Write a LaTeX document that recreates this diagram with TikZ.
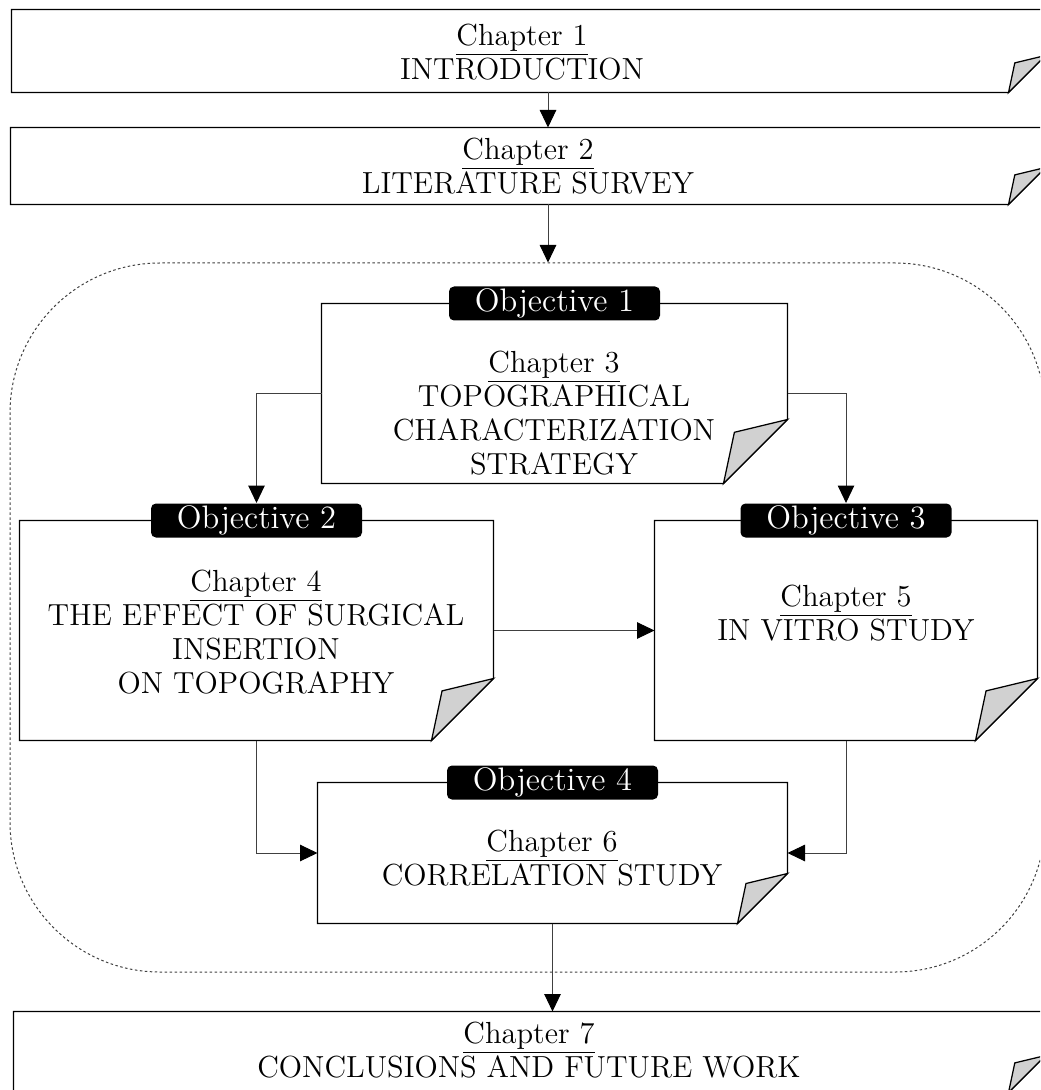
\documentclass[tikz,border=0pt]{standalone}
\usetikzlibrary{arrows.meta,calc,fit}
\tikzset{
 boxline/.style={draw=black, line width=0.5pt},
 shell/.style={inner sep=0pt, draw=none},
 txt/.style={align=center, font=\fontsize{12.2}{13.6}\selectfont, inner sep=0pt},
 obj/.style={fill=black, text=white, rounded corners=2pt, minimum width=84.4pt, minimum height=13.6pt, inner sep=0pt, font=\fontsize{13}{14}\selectfont},
 conn/.style={draw=black!75, line width=0.4pt, -{Triangle[length=7pt,width=6.6pt,black]}},
 region/.style={draw=black!75, line width=0.4pt, dash pattern=on 1pt off 1pt, rounded corners=60pt, inner sep=0pt},
 fold/.style={fill=black!18, draw=black, line width=0.5pt, line join=miter}
}
\newcommand\foldbox[2]{%
 \draw[boxline] (#1.north west) -- (#1.north east) -- ($(#1.south east)+(0,-#2)$) -- ($(#1.south east)+(-#2,0)$) -- (#1.south west) -- cycle;
 \draw[fold] ($(#1.south east)+(0,-#2)$) -- ($(#1.south east)+(-0.83*#2,-0.8*#2)$) -- ($(#1.south east)+(-#2,0)$) -- cycle;}
\begin{document}
\begin{tikzpicture}[x=0.4pt,y=-0.4pt]
\useasboundingbox (0,0) rectangle (1040,1090);
\clip (0,0) rectangle (1040,1090);
% region
\node[region, fit={(10,263) (1045,972)}] (reg) {};
% boxes
\node[shell, fit={(12,10) (1045,92)}] (b1) {};
\node[shell, fit={(11,128) (1045,204)}] (b2) {};
\node[shell, fit={(322,304) (787,483)}] (b3) {};
\node[shell, fit={(20,521) (493,740)}] (b4) {};
\node[shell, fit={(655,521) (1037,740)}] (b5) {};
\node[shell, fit={(318,783) (787,923)}] (b6) {};
\node[shell, fit={(14,1012) (1045,1092)}] (b7) {};
\foldbox{b1}{37}
\foldbox{b2}{37}
\foldbox{b3}{64}
\foldbox{b4}{62}
\foldbox{b5}{62}
\foldbox{b6}{50}
\foldbox{b7}{37}
% texts
\node[txt] (t1) at (522,52) {\underline{Chapter 1}\\INTRODUCTION};
\node[txt] (t2) at (528,166) {\underline{Chapter 2}\\LITERATURE SURVEY};
\node[txt] (t3) at (554,413) {\underline{Chapter 3}\\TOPOGRAPHICAL\\CHARACTERIZATION\\STRATEGY};
\node[txt] (t4) at (256,632) {\underline{Chapter 4}\\THE EFFECT OF SURGICAL\\INSERTION\\ON TOPOGRAPHY};
\node[txt] (t5) at (846,613) {\underline{Chapter 5}\\IN VITRO STUDY};
\node[txt] (t6) at (552,858) {\underline{Chapter 6}\\CORRELATION STUDY};
\node[txt] (t7) at (529,1050) {\underline{Chapter 7}\\CONCLUSIONS AND FUTURE WORK};
% objective labels
\node[obj] (o1) at (b3.north) {Objective 1};
\node[obj] (o2) at (b4.north) {Objective 2};
\node[obj] (o3) at (b5.north) {Objective 3};
\node[obj] (o4) at (b6.north) {Objective 4};
% connectors
\coordinate (xa) at (548,0);
\draw[conn] (b1.south -| xa) -- (b2.north -| xa);
\draw[conn] (b2.south -| xa) -- (reg.north -| xa);
\draw[conn] (b3.west) -| (o2.north);
\draw[conn] (b3.east) -| (o3.north);
\draw[conn] (b4.east) -- (b5.west);
\draw[conn] (b4.south) |- (b6.west);
\draw[conn] (b5.south) |- (b6.east);
\draw[conn] (b6.south) -- (b6.south |- b7.north);
\end{tikzpicture}
\end{document}
